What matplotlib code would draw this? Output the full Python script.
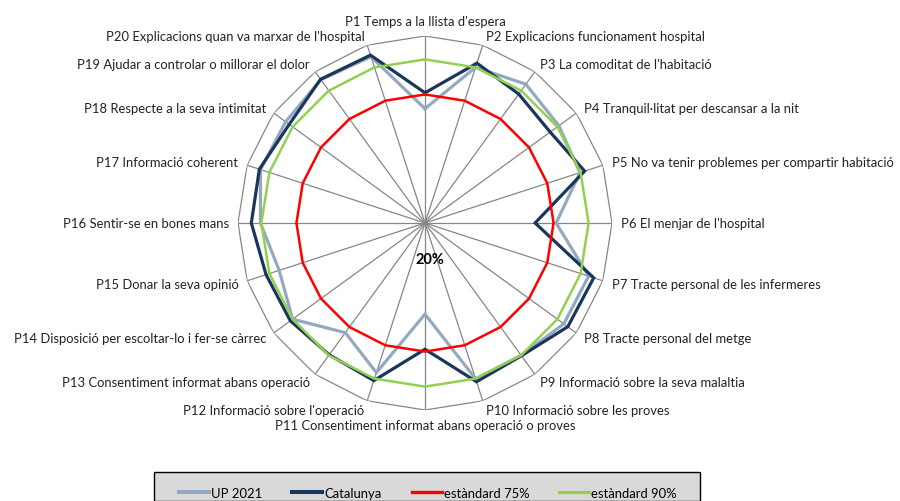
import matplotlib
matplotlib.use("Agg")
import matplotlib.pyplot as plt
from matplotlib.lines import Line2D
from matplotlib.patches import Rectangle
import numpy as np

plt.rcParams["font.family"] = ["Lato", "DejaVu Sans"]

LABELS = [
    "P1 Temps a la llista d'espera",
    "P2 Explicacions funcionament hospital",
    "P3 La comoditat de l'habitació",
    "P4 Tranquil·litat per descansar a la nit",
    "P5 No va tenir problemes per compartir habitació",
    "P6 El menjar de l'hospital",
    "P7 Tracte personal de les infermeres",
    "P8 Tracte personal del metge",
    "P9 Informació sobre la seva malaltia",
    "P10 Informació sobre les proves",
    "P11 Consentiment informat abans operació o proves",
    "P12 Informació sobre l'operació",
    "P13 Consentiment informat abans operació",
    "P14 Disposició per escoltar-lo i fer-se càrrec",
    "P15 Donar la seva opinió",
    "P16 Sentir-se en bones mans",
    "P17 Informació coherent",
    "P18 Respecte a la seva intimitat",
    "P19 Ajudar a controlar o millorar el dolor",
    "P20 Explicacions quan va marxar de l'hospital",
]

up_2021 = [68.9, 90.0, 93.4, 90.8, 89.7, 76.1, 93.6, 93.4, 90.0, 90.1,
           59.0, 87.3, 78.0, 90.0, 85.6, 90.4, 94.0, 93.7, 95.8, 94.8]
catalunya = [75.7, 91.9, 88.2, 86.2, 91.8, 67.1, 95.9, 95.5, 90.2, 91.4,
             74.0, 90.9, 89.7, 91.2, 91.5, 94.3, 94.5, 91.8, 96.0, 95.5]
std_75 = [75] * 20
std_90 = [90] * 20

SERIES = [
    ("UP 2021", up_2021, "#93A9C0", 2.3),
    ("Catalunya", catalunya, "#1B365D", 2.3),
    ("estàndard 75%", std_75, "#FF0000", 1.8),
    ("estàndard 90%", std_90, "#92D050", 1.8),
]

R_MIN, R_MAX = 20, 100
FS = 9.4

n = len(LABELS)
angles = np.arange(n) * 2 * np.pi / n
closed = np.append(angles, angles[0])

fig = plt.figure(figsize=(9, 5.02), dpi=100)
# center at (425, 224) px, radius 187 px
ax = fig.add_axes([238 / 900, 91 / 502, 374 / 900, 374 / 502], polar=True)
ax.set_theta_zero_location("N")
ax.set_theta_direction(-1)
ax.set_ylim(R_MIN, R_MAX)
ax.grid(False)
ax.spines["polar"].set_visible(False)
ax.set_xticks([])
ax.set_yticks([])
ax.patch.set_alpha(0)

# outer ring + spokes
ax.plot(closed, [R_MAX] * (n + 1), color="#868686", lw=0.9, zorder=1)
for a in angles:
    ax.plot([a, a], [R_MIN, R_MAX], color="#868686", lw=0.9, zorder=1)

for name, vals, col, lw in SERIES:
    v = np.append(vals, vals[0])
    ax.plot(closed, v, color=col, lw=lw, zorder=3, solid_joinstyle="miter")

# category labels
r_lab = 104
for a, lab in zip(angles, LABELS):
    s = np.sin(a)
    if abs(s) < 1e-6:
        ha = "center"
        va = "bottom" if np.cos(a) > 0 else "top"
    else:
        ha = "left" if s > 0 else "right"
        va = "center"
    ax.text(a, r_lab, lab, ha=ha, va=va, fontsize=FS, color="#222222",
            clip_on=False)

fig.text(430 / 900, 1 - 260 / 502, "20%", ha="center", va="center",
         fontsize=10.5, fontweight="bold", color="black")

# legend box (runs off the bottom edge like the original)
fig.patches.append(Rectangle((154 / 900, 0), 546 / 900, 19 / 502 + 0.02,
                             transform=fig.transFigure, facecolor="#D9D9D9",
                             edgecolor="black", lw=1.0, zorder=0))
handles = [Line2D([], [], color=c, lw=lw + 0.6) for _, _, c, lw in SERIES]
leg = fig.legend(handles, [s[0] for s in SERIES], ncol=4, loc="center",
                 bbox_to_anchor=(428 / 900, 1 - 494 / 502), fontsize=FS,
                 frameon=False, handlelength=2.3, handletextpad=0.15,
                 columnspacing=2.3, borderpad=0, borderaxespad=0)

fig.savefig("out.png", dpi=100)
